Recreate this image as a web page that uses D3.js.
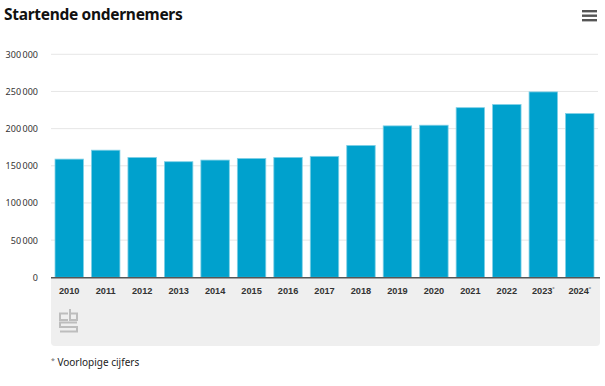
<!DOCTYPE html>
<html>
<head>
<meta charset="utf-8">
<script src="https://cdnjs.cloudflare.com/ajax/libs/d3/7.8.5/d3.min.js"></script>
<style>
  body { margin: 0; background: #fff; }
  svg { display: block; font-family: "Noto Sans", "Open Sans", sans-serif; }
</style>
</head>
<body>
<svg id="chart" width="605" height="386"></svg>
<script>
// Startende ondernemers per jaar (* = voorlopige cijfers)
var years = ["2010", "2011", "2012", "2013", "2014", "2015", "2016", "2017",
             "2018", "2019", "2020", "2021", "2022", "2023*", "2024*"];
var starters = [159000, 171000, 161200, 155500, 157700, 159900, 161300, 162700,
                177400, 203700, 204600, 228200, 232400, 249400, 220300];
var yTicks = [0, 50000, 100000, 150000, 200000, 250000, 300000];

(function () {
    "use strict";
    var svg = d3.select("#chart");
    var m = { left: 51, right: 598, top: 54.3, bottom: 277.3 };

    var x = d3.scaleBand().domain(years).range([m.left, m.right])
        .paddingInner(0.22).paddingOuter(0.11);
    var y = d3.scaleLinear().domain([0, 300000]).range([m.bottom, m.top]);

    var nl = d3.formatLocale({ decimal: ",", thousands: "\u2009", grouping: [3], currency: ["€", ""] });
    var fmt = nl.format(",d");

    // title
    svg.append("text").attr("x", 4).attr("y", 20)
        .attr("font-size", 15.5).attr("font-weight", "bold").attr("fill", "#111")
        .attr("letter-spacing", -0.3)
        .text("Startende ondernemers");

    // hamburger menu
    svg.append("g").selectAll("rect").data([0, 1, 2]).enter().append("rect")
        .attr("x", 582).attr("y", function (d) { return 10 + d * 4.5; })
        .attr("width", 15).attr("height", 2.4).attr("fill", "#555");

    // grey x-axis panel
    svg.append("path")
        .attr("d", "M51,278 H600 V342 Q600,346 596,346 H55 Q51,346 51,342 Z")
        .attr("fill", "#efefef");

    // gridlines
    svg.append("g").selectAll("line").data(yTicks.slice(1)).enter().append("line")
        .attr("x1", m.left).attr("x2", m.right)
        .attr("y1", function (d) { return y(d); }).attr("y2", function (d) { return y(d); })
        .attr("stroke", "#e6e6e6").attr("stroke-width", 1);

    // y axis labels
    var yAxis = d3.axisLeft(y).tickValues(yTicks).tickFormat(fmt).tickSize(0).tickPadding(0);
    var ya = svg.append("g").attr("transform", "translate(38,0)").call(yAxis);
    ya.select(".domain").remove();
    ya.selectAll("text").attr("font-size", 9).attr("fill", "#333")
        .attr("font-family", "\"Noto Sans\", sans-serif");

    // bars
    svg.append("g").selectAll("rect").data(starters).enter().append("rect")
        .attr("x", function (d, i) { return x(years[i]); })
        .attr("y", function (d) { return y(d); })
        .attr("width", x.bandwidth())
        .attr("height", function (d) { return y(0) - y(d); })
        .attr("fill", "#00a1cd")
        .attr("stroke", "#7fd0e6").attr("stroke-width", 0.8);

    // baseline
    svg.append("line").attr("x1", m.left).attr("x2", m.right + 2)
        .attr("y1", m.bottom + 0.5).attr("y2", m.bottom + 0.5)
        .attr("stroke", "#555").attr("stroke-width", 1.5);

    // x axis labels
    var xAxis = d3.axisBottom(x).tickSize(0).tickPadding(10)
        .tickFormat(function (d) { return d.replace("*", ""); });
    var xa = svg.append("g").attr("transform", "translate(0," + m.bottom + ")").call(xAxis);
    xa.select(".domain").remove();
    xa.selectAll("text").attr("font-size", 9.2).attr("font-weight", 600).attr("fill", "#333")
        .each(function (d) {
            if (d.indexOf("*") >= 0) {
                d3.select(this).append("tspan").attr("font-size", 6).attr("dy", -3)
                    .attr("fill", "#888").text("*");
            }
        });

    // CBS logo (simplified)
    var logo = svg.append("g").attr("transform", "translate(59,309)")
        .attr("fill", "none").attr("stroke", "#bdbdbd").attr("stroke-width", 2);
    logo.append("path").attr("d", "M9,4.5 H1 V11 H9");
    logo.append("path").attr("d", "M11,0 V11 H18 V4.5 H11");
    logo.append("path").attr("d", "M18,13.5 H1 V18 H18 V22.5 H1");

    // footnote
    var fn = svg.append("text").attr("x", 51).attr("y", 366)
        .attr("font-size", 10).attr("fill", "#222");
    fn.append("tspan").attr("font-size", 7).attr("dy", -3).attr("fill", "#666").text("*");
    fn.append("tspan").attr("dy", 3).text(" Voorlopige cijfers");
})();
</script>
</body>
</html>
